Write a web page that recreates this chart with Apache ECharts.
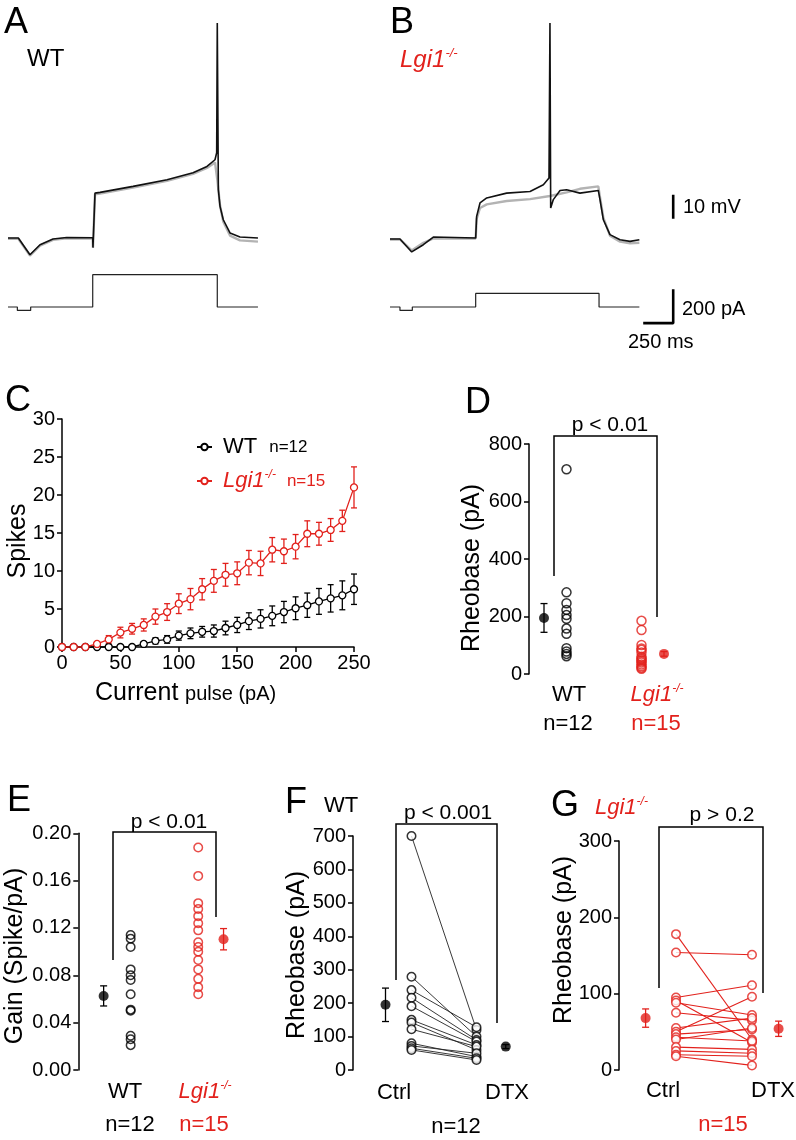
<!DOCTYPE html>
<html><head><meta charset="utf-8">
<script src="https://cdn.jsdelivr.net/npm/echarts@6/dist/echarts.min.js"></script>
<style>html,body{margin:0;padding:0;background:#fff}#c{width:796px;height:1140px}</style>
</head><body><div id="c"></div>
<script>
// ================= DATA =================
// Panel A/B example traces: [time (ms), membrane potential (mV)] / [time (ms), injected current (pA)]
const traceA_black = [[0,-70],[86,-70],[183,-77],[267,-72.8],[375,-70.4],[489,-69.8],[706,-69.9],[708,-74],[725,-51.3],[767,-51],[1042,-48.5],[1325,-45.7],[1542,-42.8],[1658,-40.2],[1725,-37.4],[1739,-34.5],[1744,19.6],[1753,-49.9],[1767,-56.8],[1794,-62.4],[1850,-67.9],[1933,-69.6],[2083,-70]];
const traceA_gray  = [[0,-70.3],[86,-70.3],[183,-77.3],[267,-73.2],[375,-70.8],[489,-70.1],[706,-70.2],[708,-74],[725,-51.8],[767,-51.5],[1042,-49],[1325,-46.2],[1542,-43.3],[1658,-40.8],[1725,-38.5],[1745,-46],[1767,-56.5],[1794,-63.2],[1850,-69],[1933,-71],[2083,-71.5]];
const traceA_current = [[0,0],[78,0],[78,-20],[189,-20],[189,0],[706,0],[706,190],[1744,190],[1744,0],[2083,0]];
const traceB_black = [[0,-70.4],[83,-70.4],[181,-75.8],[278,-72.8],[361,-69.6],[714,-70],[722,-61],[750,-55.4],[806,-53.3],[972,-51.3],[1167,-50.6],[1278,-47.8],[1325,-45],[1333,19.6],[1339,-57.5],[1361,-54],[1417,-50.2],[1472,-49.9],[1583,-51.3],[1736,-50.2],[1750,-54],[1778,-62.4],[1833,-68.6],[1917,-70.7],[2000,-71.4],[2078,-70.7]];
const traceB_gray  = [[0,-70.6],[83,-70.6],[181,-75.2],[278,-72],[361,-70.2],[714,-70.2],[722,-62],[750,-57.5],[806,-56],[972,-54.6],[1167,-53.8],[1333,-52.5],[1472,-51],[1583,-49.5],[1736,-48.5],[1750,-53],[1778,-61.5],[1833,-69],[1917,-71.5],[2000,-72.2],[2078,-72]];
const traceB_current = [[0,0],[83,0],[83,-20],[186,-20],[186,0],[714,0],[714,80],[1742,80],[1742,0],[2078,0]];
const scaleBar_mV = [[2360,-62],[2360,-52]];            // 10 mV
const scaleBar_pA_ms = [[2110,-95],[2360,-95],[2360,105]]; // 250 ms, 200 pA

// Panel C: spikes vs current pulse
const currentPulse = [0,10,20,30,40,50,60,70,80,90,100,110,120,130,140,150,160,170,180,190,200,210,220,230,240,250];
const spikesWT  = [0,0,0,0,0,0,0,0.4,0.8,1.0,1.5,1.8,2.0,2.1,2.5,2.9,3.4,3.7,4.1,4.6,5.1,5.5,6.0,6.4,6.8,7.6];
const semWT     = [0,0,0,0,0,0,0,0.3,0.4,0.5,0.6,0.7,0.7,0.8,0.9,1.0,1.1,1.2,1.3,1.4,1.5,1.6,1.7,1.8,1.9,2.0];
const spikesKO  = [0,0,0,0.4,1.0,1.9,2.4,2.9,4.0,4.6,5.7,6.3,7.6,8.7,9.5,9.7,11.1,11.0,12.8,12.6,13.2,14.9,14.9,15.4,16.6,21.0];
const semKO     = [0,0,0,0.3,0.5,0.7,0.7,0.8,1.0,1.1,1.3,1.4,1.4,1.5,1.5,1.5,1.6,1.6,1.6,1.6,1.6,1.7,1.5,1.5,1.4,2.7];

// Panel D: rheobase (pA)
const rheoWT = [712,284,246,223,205,192,158,140,90,78,70,62];
const rheoKO = [185,153,101,89,84,75,60,55,50,45,40,33,27,22,18];
const rheoWT_mean = [195,50];
const rheoKO_mean = [70,8];

// Panel E: gain (spike/pA)
const gainWT = [0.114,0.111,0.104,0.085,0.080,0.076,0.064,0.051,0.050,0.029,0.026,0.021];
const gainKO = [0.188,0.164,0.141,0.136,0.130,0.124,0.118,0.108,0.104,0.100,0.093,0.085,0.077,0.070,0.064];
const gainWT_mean = [0.0626,0.0085];
const gainKO_mean = [0.1105,0.009];

// Panel F: WT rheobase Ctrl vs DTX (paired)
const wtCtrl = [700,279,239,216,191,150,142,122,80,72,65,60];
const wtDTX  = [120,100,128,90,85,75,60,70,40,50,35,30];
const wtCtrl_mean = [195,50];
const wtDTX_mean  = [70,6];

// Panel G: Lgi1-/- rheobase Ctrl vs DTX (paired)
const koCtrl = [178,154,95,91,88,75,55,50,47,43,40,30,25,20,18];
const koDTX  = [40,151,111,36,72,65,68,96,53,38,55,27,22,18,6];
const koCtrl_mean = [68,12];
const koDTX_mean  = [54,10];

// ================= LAYOUT / STYLE =================
const RED = '#e2211c';
const FONT = '"Liberation Sans", Arial, Helvetica, sans-serif';
const POS = { // x positions of the groups on hidden value axes
  D: {mA:0.4, a:1.0, b:3.0, mB:3.6},
  E: {mA:0.75, a:1.55, b:3.55, mB:4.3},
  F: {mA:1.0, a:1.8, b:3.8, mB:4.7},
  G: {mA:0.7, a:1.5, b:3.5, mB:4.2}
};

const chart = echarts.init(document.getElementById('c'), null, {renderer:'canvas', width:796, height:1140});

const grids = [
  {left:8, top:22, width:252, height:240},
  {left:8, top:259.4, width:252, height:64.6},
  {left:390, top:22, width:288, height:240},
  {left:390, top:259.4, width:288, height:64.6},
  {left:62, top:419, width:292, height:228},
  {left:529, top:444, width:168.75, height:230},
  {left:78.3, top:833.3, width:152, height:236.7},
  {left:353, top:836, width:162.5, height:234},
  {left:619, top:841, width:171, height:229}
].map(g => Object.assign({containLabel:false, outerBoundsMode:'none'}, g));

const axLine = {show:true, onZero:false, lineStyle:{color:'#000', width:1.5}};
const axTick = {show:true, length:5, lineStyle:{color:'#000', width:1.5}};
const axLab = {color:'#000', fontSize:20, fontFamily:FONT, margin:7};

function hx(i, min, max){ return {gridIndex:i, type:'value', min, max, show:false}; }
function hy(i, min, max){ return {gridIndex:i, type:'value', min, max, show:false}; }
function vy(i, min, max, interval, fmt){
  return {gridIndex:i, type:'value', min, max, interval, axisLine:axLine, axisTick:axTick,
    axisLabel:Object.assign({}, axLab, fmt ? {formatter:fmt} : {}), splitLine:{show:false}};
}

const xAxes = [
  hx(0,0,2100), hx(1,0,2100), hx(2,0,2400), hx(3,0,2400),
  {gridIndex:4, type:'value', min:0, max:250, interval:50, axisLine:axLine, axisTick:axTick,
   axisLabel:Object.assign({}, axLab, {margin:6}), splitLine:{show:false}},
  hx(5,0,4.5), hx(6,0,4.5), hx(7,0,5), hx(8,0,4.5)
];
const yAxes = [
  hy(0,-80,20), hy(1,-100,280), hy(2,-80,20), hy(3,-100,280),
  vy(4,0,30,5),
  vy(5,0,800,200),
  vy(6,0,0.2,0.04, v => v.toFixed(2)),
  vy(7,0,700,100),
  vy(8,0,300,100)
];

function trace(i, data, color, w, z){
  return {type:'line', xAxisIndex:i, yAxisIndex:i, data, showSymbol:false, symbol:'none', clip:false,
    lineStyle:{color, width:w}, z:z||2, silent:true};
}
function errBar(i, data, color, cap, z){
  return {type:'custom', xAxisIndex:i, yAxisIndex:i, data, clip:false, z:z||3, silent:true,
    renderItem:(params, api) => {
      const x = api.value(0), m = api.value(1), e = api.value(2);
      if (!(e > 0)) return {type:'group', children:[]};
      const hi = api.coord([x, m+e]), lo = api.coord([x, m-e]);
      const st = {stroke:color, lineWidth:1.3};
      return {type:'group', children:[
        {type:'line', shape:{x1:hi[0], y1:hi[1], x2:lo[0], y2:lo[1]}, style:st},
        {type:'line', shape:{x1:hi[0]-cap, y1:hi[1], x2:hi[0]+cap, y2:hi[1]}, style:st},
        {type:'line', shape:{x1:lo[0]-cap, y1:lo[1], x2:lo[0]+cap, y2:lo[1]}, style:st}
      ]};
    }};
}
function dots(i, x, vals, color, size, fill, z){
  return {type:'scatter', xAxisIndex:i, yAxisIndex:i, data:vals.map(v => [x, v]), symbol:'circle',
    symbolSize:size, clip:false, z:z||4, silent:true,
    itemStyle:{color:fill, borderColor:color, borderWidth:1.5}};
}
function meanDot(i, x, mv, color){
  return [errBar(i, [[x, mv[0], mv[1]]], color, 3.5, 4),
          {type:'scatter', xAxisIndex:i, yAxisIndex:i, data:[[x, mv[0]]], symbol:'circle', symbolSize:10,
           clip:false, z:5, silent:true, itemStyle:{color}}];
}
function pairs(i, xa, xb, a, b, color, w){
  return {type:'custom', xAxisIndex:i, yAxisIndex:i, data:a.map((v,k) => [xa, v, xb, b[k]]), clip:false, z:2, silent:true,
    renderItem:(params, api) => {
      const s = api.coord([api.value(0), api.value(1)]), e = api.coord([api.value(2), api.value(3)]);
      return {type:'line', shape:{x1:s[0], y1:s[1], x2:e[0], y2:e[1]}, style:{stroke:color, lineWidth:w}};
    }};
}

const series = [
  trace(0, traceA_gray, '#b3b3b3', 2.4, 1),
  trace(0, traceA_black, '#111', 1.6, 2),
  trace(1, traceA_current, '#222', 1.2, 2),
  trace(2, traceB_gray, '#b3b3b3', 2.4, 1),
  trace(2, traceB_black, '#111', 1.6, 2),
  trace(3, traceB_current, '#222', 1.2, 2),
  trace(2, scaleBar_mV, '#000', 2.6, 2),
  trace(3, scaleBar_pA_ms, '#000', 2.6, 2),
  // C
  errBar(4, currentPulse.map((c,k) => [c, spikesWT[k], semWT[k]]), '#000', 3, 2),
  errBar(4, currentPulse.map((c,k) => [c, spikesKO[k], semKO[k]]), RED, 3, 2),
  {name:'WT', type:'line', xAxisIndex:4, yAxisIndex:4, data:currentPulse.map((c,k) => [c, spikesWT[k]]),
   symbol:'circle', symbolSize:7, showSymbol:true, clip:false, z:4, silent:true,
   lineStyle:{color:'#000', width:1.3}, itemStyle:{color:'#fff', borderColor:'#000', borderWidth:1.3}},
  {name:'Lgi1', type:'line', xAxisIndex:4, yAxisIndex:4, data:currentPulse.map((c,k) => [c, spikesKO[k]]),
   symbol:'circle', symbolSize:7, showSymbol:true, clip:false, z:4, silent:true,
   lineStyle:{color:RED, width:1.3}, itemStyle:{color:'#fff', borderColor:RED, borderWidth:1.3}},
  // D
  dots(5, POS.D.a, rheoWT, '#000', 9, 'rgba(0,0,0,0)'),
  dots(5, POS.D.b, rheoKO, RED, 9, 'rgba(0,0,0,0)'),
  ...meanDot(5, POS.D.mA, rheoWT_mean, '#000'),
  ...meanDot(5, POS.D.mB, rheoKO_mean, RED),
  // E
  dots(6, POS.E.a, gainWT, '#000', 8.5, 'rgba(0,0,0,0)'),
  dots(6, POS.E.b, gainKO, RED, 8.5, 'rgba(0,0,0,0)'),
  ...meanDot(6, POS.E.mA, gainWT_mean, '#000'),
  ...meanDot(6, POS.E.mB, gainKO_mean, RED),
  // F
  pairs(7, POS.F.a, POS.F.b, wtCtrl, wtDTX, '#222', 0.9),
  dots(7, POS.F.a, wtCtrl, '#000', 8.5, '#fff'),
  dots(7, POS.F.b, wtDTX, '#000', 8.5, '#fff'),
  ...meanDot(7, POS.F.mA, wtCtrl_mean, '#000'),
  ...meanDot(7, POS.F.mB, wtDTX_mean, '#000'),
  // G
  pairs(8, POS.G.a, POS.G.b, koCtrl, koDTX, RED, 1.1),
  dots(8, POS.G.a, koCtrl, RED, 8.5, '#fff'),
  dots(8, POS.G.b, koDTX, RED, 8.5, '#fff'),
  ...meanDot(8, POS.G.mA, koCtrl_mean, RED),
  ...meanDot(8, POS.G.mB, koDTX_mean, RED)
];

// ---------- text / annotations ----------
const g = [];
function T(text, x, y, size, opt){
  opt = opt || {};
  g.push({type:'text', x, y, rotation:opt.rot||0, z:10, silent:true,
    style:{text, fill:opt.color||'#000', font:(opt.italic?'italic ':'')+size+'px '+FONT,
      textAlign:opt.align||'left', textVerticalAlign:'middle'}});
}
function KO(x, y, size, align, supSize){
  g.push({type:'text', x, y, z:10, silent:true,
    style:{text:'{i|Lgi1}{s|-/-}', textAlign:align||'left', textVerticalAlign:'middle',
      rich:{i:{fill:RED, fontStyle:'italic', fontSize:size, fontFamily:FONT, lineHeight:size+2},
            s:{fill:RED, fontStyle:'italic', fontSize:supSize||Math.round(size*0.55), fontFamily:FONT, verticalAlign:'top', lineHeight:size+2}}}});
}
function bracket(pts){
  g.push({type:'polyline', z:9, silent:true, shape:{points:pts}, style:{stroke:'#000', lineWidth:1.5, fill:null}});
}
// panel letters
T('A', 4, 23, 36); T('B', 390, 23, 36); T('C', 5, 401, 36); T('D', 465, 403, 36);
T('E', 7, 801, 36); T('F', 285, 803, 36); T('G', 551, 806, 36);
// A/B headers and scale-bar labels
T('WT', 27, 59, 24); KO(400, 60, 24, 'left', 13);
T('10 mV', 683, 207, 20); T('200 pA', 682, 309, 20); T('250 ms', 628, 342, 20);
// axis titles
T('Spikes', 18, 541, 25, {rot:Math.PI/2, align:'center'});
g.push({type:'text', x:95, y:693, z:10, silent:true, style:{text:'{a|Current}  {b|pulse (pA)}', textVerticalAlign:'middle',
  rich:{a:{fontSize:25, fontFamily:FONT, fill:'#000'}, b:{fontSize:20, fontFamily:FONT, fill:'#000', padding:[3,0,0,0]}}}});
T('Rheobase (pA)', 472, 568, 25, {rot:Math.PI/2, align:'center'});
T('Gain (Spike/pA)', 15, 956, 25, {rot:Math.PI/2, align:'center'});
T('Rheobase (pA)', 297, 955, 25, {rot:Math.PI/2, align:'center'});
T('Rheobase (pA)', 564, 940, 25, {rot:Math.PI/2, align:'center'});
// D
bracket([[554,576],[554,436],[657,436],[657,617]]);
T('p < 0.01', 610, 425, 21, {align:'center'});
T('WT', 569, 695, 22, {align:'center'}); T('n=12', 568, 724, 22, {align:'center'});
KO(657, 695, 22, 'center', 12); T('n=15', 656, 724, 22, {align:'center', color:RED});
// E
bracket([[113,960],[113,832],[216,832],[216,917]]);
T('p < 0.01', 169, 822, 21, {align:'center'});
T('WT', 125, 1092, 22, {align:'center'}); KO(205, 1092, 22, 'center', 12);
T('n=12', 130, 1125, 22, {align:'center'}); T('n=15', 204, 1125, 22, {align:'center', color:RED});
// F
T('WT', 324, 806, 22);
bracket([[396,980],[396,824],[497,824],[497,1023]]);
T('p < 0.001', 448, 813, 21, {align:'center'});
T('Ctrl', 394, 1093, 22, {align:'center'}); T('DTX', 507, 1093, 22, {align:'center'});
T('n=12', 456, 1127, 22, {align:'center'});
// G
KO(595, 808, 22, 'left', 12);
bracket([[659,988],[659,827],[763,827],[763,993]]);
T('p > 0.2', 722, 815, 21, {align:'center'});
T('Ctrl', 663, 1091, 22, {align:'center'}); T('DTX', 773, 1091, 22, {align:'center'});
T('n=15', 723, 1125, 22, {align:'center', color:RED});

chart.setOption({
  animation:false,
  backgroundColor:'#fff',
  textStyle:{fontFamily:FONT},
  grid:grids, xAxis:xAxes, yAxis:yAxes, series,
  legend:{show:true, orient:'vertical', left:191, top:431, itemWidth:15, itemHeight:8, itemGap:11,
    selectedMode:false,
    data:['WT','Lgi1'],
    formatter:name => name === 'WT' ? '{a|WT}{b|n=12}' : '{c|Lgi1}{d|-/-}{e|n=15}',
    textStyle:{fontFamily:FONT, rich:{
      a:{fontSize:22, color:'#000', lineHeight:24, fontFamily:FONT, padding:[0,0,0,6]},
      b:{fontSize:17, color:'#000', lineHeight:24, fontFamily:FONT, padding:[0,0,0,12]},
      c:{fontSize:22, color:RED, fontStyle:'italic', lineHeight:24, fontFamily:FONT, padding:[0,0,0,6]},
      d:{fontSize:12, color:RED, fontStyle:'italic', verticalAlign:'top', lineHeight:24, fontFamily:FONT},
      e:{fontSize:17, color:RED, lineHeight:24, fontFamily:FONT, padding:[0,0,0,11]}}}},
  graphic:g
});
</script></body></html>
